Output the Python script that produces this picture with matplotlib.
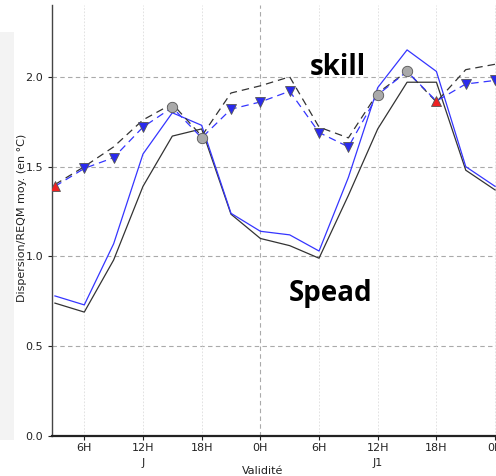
import numpy as np
import matplotlib
matplotlib.use("Agg")
import matplotlib.pyplot as plt
from matplotlib.patches import Rectangle
from matplotlib.transforms import blended_transform_factory

# echeances (heures)
hours = [3, 6, 9, 12, 15, 18, 21, 24, 27, 30, 33, 36, 39, 42, 45, 48]

# REQM (tirets noirs) et REQM experience (tirets bleus)
reqm_ref = [1.40, 1.50, 1.61, 1.76, 1.85, 1.67, 1.91, 1.95, 2.00, 1.72, 1.66, 1.91, 2.03, 1.86, 2.04, 2.07]
reqm_exp = [1.39, 1.49, 1.55, 1.72, 1.83, 1.66, 1.82, 1.86, 1.92, 1.69, 1.61, 1.90, 2.03, 1.865, 1.96, 1.98]
# significativite: v = meilleur, c = neutre, r = pire
signif = ["r", "v", "v", "v", "c", "c", "v", "v", "v", "v", "v", "c", "c", "r", "v", "v"]

# dispersion (traits pleins)
disp_ref = [0.74, 0.69, 0.98, 1.39, 1.67, 1.71, 1.235, 1.10, 1.06, 0.99, 1.34, 1.71, 1.97, 1.97, 1.48, 1.37]
disp_exp = [0.78, 0.73, 1.07, 1.57, 1.80, 1.73, 1.24, 1.14, 1.12, 1.03, 1.44, 1.94, 2.15, 2.03, 1.50, 1.39]

tick_hours = [6, 12, 18, 24, 30, 36, 42, 48]
tick_labels = ["6H", "12H", "18H", "0H", "6H", "12H", "18H", "0H"]
day_labels = [(12, "J"), (36, "J1")]

fig = plt.figure(figsize=(4.96, 4.76), dpi=100)
fig.patches.append(Rectangle((0, 36 / 476), 14 / 496, 408 / 476, transform=fig.transFigure,
                             facecolor="#f3f3f3", edgecolor="none", zorder=-5))
ax = fig.add_axes([52 / 496, 40 / 476, 448 / 496, 431 / 476])
ax.set_facecolor("none")

ax.plot(hours, disp_ref, color="#333333", lw=0.9, zorder=3)
ax.plot(hours, disp_exp, color="#3535ff", lw=0.9, zorder=3)
ax.plot(hours, reqm_ref, color="#333333", lw=0.9, ls=(0, (6, 4)), zorder=3)
ax.plot(hours, reqm_exp, color="#3535ff", lw=0.9, ls=(0, (6, 4)), zorder=3)

styles = {"v": dict(marker="v", color="#2a2aee", ms=7),
          "c": dict(marker="o", color="#aaaaaa", ms=7.5),
          "r": dict(marker="^", color="#ee2222", ms=7)}
for h, v, s in zip(hours, reqm_exp, signif):
    st = styles[s]
    ax.plot(h, v, marker=st["marker"], ms=st["ms"], mfc=st["color"], mec="#555555", mew=0.6,
            ls="none", zorder=4)

ax.set_xlim(2.7, 48.5)
ax.set_ylim(0, 2.4)
ax.set_yticks([0.0, 0.5, 1.0, 1.5, 2.0])
ax.set_yticklabels(["0.0", "0.5", "1.0", "1.5", "2.0"])
ax.set_xticks(tick_hours)
ax.set_xticklabels(tick_labels)
ax.tick_params(labelsize=8, colors="#222222", length=3, width=0.8)
ax.tick_params(axis="x", pad=2)

for y in [0.5, 1.0, 1.5, 2.0]:
    ax.axhline(y, color="#aaaaaa", lw=0.8, ls=(0, (4, 3)), zorder=1)
for h in tick_hours:
    if h == 24:
        ax.axvline(h, color="#aaaaaa", lw=0.8, ls=(0, (4, 3)), zorder=1)
    else:
        ax.axvline(h, color="#dddddd", lw=0.6, ls=(0, (2, 2)), zorder=1)

for side in ["top", "right"]:
    ax.spines[side].set_visible(False)
ax.spines["left"].set_color("#444444")
ax.spines["left"].set_linewidth(1.0)
ax.spines["bottom"].set_color("#222222")
ax.spines["bottom"].set_linewidth(1.6)

trans = blended_transform_factory(ax.transData, fig.transFigure)
for h, lab in day_labels:
    ax.text(h, 13 / 476, lab, transform=trans, ha="center", va="center", fontsize=8, color="#222222")
ax.text(24.2, 5 / 476, "Validité", transform=trans, ha="center", va="center", fontsize=8, color="#222222")
ax.text(22 / 496, 258 / 476, "Dispersion/REQM moy. (en °C)", transform=fig.transFigure, rotation=90,
        ha="center", va="center", fontsize=8, color="#222222", zorder=6)

ax.text(31.9, 2.05, "skill", fontsize=20, fontweight="bold", family="Open Sans", ha="center", va="center", zorder=5)
ax.text(31.2, 0.795, "Spead", fontsize=20, fontweight="bold", family="Open Sans", ha="center", va="center", zorder=5)

fig.savefig("out.png", dpi=100)
